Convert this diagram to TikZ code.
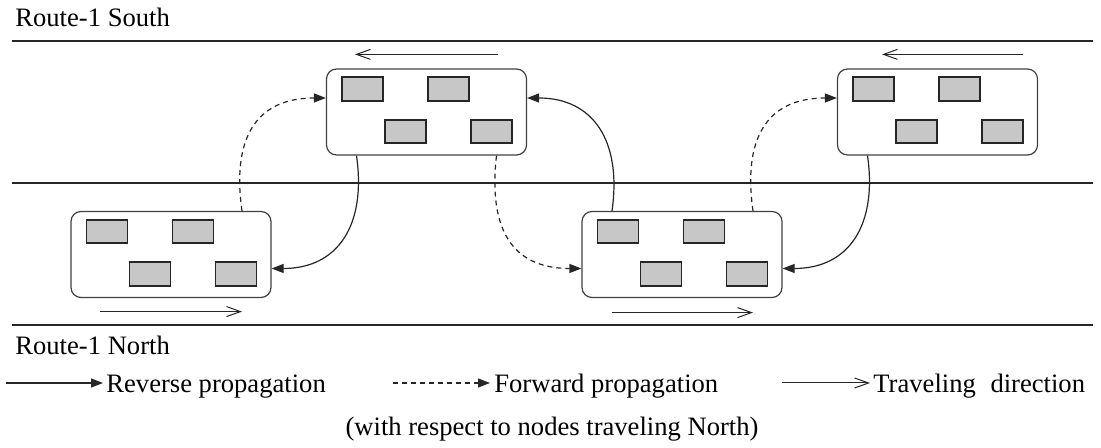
\documentclass[tikz,border=0pt]{standalone}
\usepackage{fontspec}
\setmainfont{Liberation Serif}
\usetikzlibrary{arrows.meta,calc}
\begin{document}
\begin{tikzpicture}[x=0.5pt,y=0.5pt,
  font=\fontsize{13.3}{16}\selectfont,
  road/.style={line width=1pt,black!85},
  cluster/.style={draw=black!75,line width=0.6pt,rounded corners=5pt,minimum width=100pt,minimum height=43pt,inner sep=0pt},
  car/.style={draw=black!85,fill=black!22,line width=0.9pt,minimum width=20.5pt,minimum height=11.75pt,inner sep=0pt},
  rev/.style={line width=0.6pt,black!85,-{Triangle[length=6pt,width=4.5pt]}},
  fwd/.style={rev,dash pattern=on 2.5pt off 2pt},
  travel/.style={line width=0.5pt,black!85,-{Straight Barb[length=7pt,width=5pt,line width=0.5pt]}},
  lbl/.style={anchor=base west,inner sep=0pt}]
\useasboundingbox (0,0) rectangle (1101,448);
% roads
\draw[road] (12,407) -- (1093,407);
\draw[road] (12,265) -- (1093,265);
\draw[road] (12,123) -- (1093,123);
\node[lbl] (south) at (15,421) {Route-1 South};
\node[lbl] (north) at (15,93) {Route-1 North};
% clusters
\node[cluster] (A) at (171,193.5) {};
\node[cluster] (B) at (426.5,336) {};
\node[cluster] (C) at (682,193.5) {};
\node[cluster] (D) at (937.5,336) {};
\foreach \n in {A,B,C,D}{
  \node[car] (\n1) at ($(\n.north west)+(36.5,-20.5)$) {};
  \node[car] (\n2) at ($(\n.north west)+(122.5,-20.5)$) {};
  \node[car] (\n3) at ($(\n.north west)+(79.5,-63)$) {};
  \node[car] (\n4) at ($(\n.north west)+(165.5,-63)$) {};
}
% traveling directions
\draw[travel] ($(B.north)+(71.5,14)$) -- ($(B.north)+(-71.5,14)$);
\draw[travel] ($(D.north)+(85.5,14)$) -- ($(D.north)+(-55.5,14)$);
\draw[travel] ($(A.south)+(-71,-13.5)$) -- ($(A.south)+(71,-13.5)$);
\draw[travel] ($(C.south)+(-70,-14.5)$) -- ($(C.south)+(71,-14.5)$);
% propagation
\draw[fwd] ($(A.north)+(71,0)$) .. controls +(-10,70) and +(-72,0) .. ($(B.west)+(0,14)$);
\draw[rev] ($(B.south)+(-70,0)$) .. controls +(10,-70) and +(66,0) .. ($(A.east)+(0,-14)$);
\draw[rev] ($(C.north)+(-70,0)$) .. controls +(10,70) and +(66,0) .. ($(B.east)+(0,14)$);
\draw[fwd] ($(B.south)+(70,0)$) .. controls +(-8,-70) and +(-72,0) .. ($(C.west)+(0,-14)$);
\draw[fwd] ($(C.north)+(71,0)$) .. controls +(-10,70) and +(-72,0) .. ($(D.west)+(0,14)$);
\draw[rev] ($(D.south)+(-70,0)$) .. controls +(10,-70) and +(66,0) .. ($(C.east)+(0,-14)$);
% legend
\node[lbl] (lrev) at (106,55) {Reverse propagation};
\node[lbl] (lfwd) at (494,55) {Forward propagation};
\node[lbl] (ltra) at (873,55) {Traveling\hspace{0.55em}direction};
\coordinate (lrevs) at (6,65);
\coordinate (lfwds) at (393,65);
\coordinate (ltras) at (782,65);
\draw[rev] (lrevs) -- ($(lrev.base west)+(-3,10)$);
\draw[fwd] (lfwds) -- ($(lfwd.base west)+(-4,10)$);
\draw[travel] (ltras) -- ($(ltra.base west)+(-3,10)$);
\node[anchor=base,inner sep=0pt] (note) at (552,12) {(with respect to nodes traveling North)};
\end{tikzpicture}
\end{document}
